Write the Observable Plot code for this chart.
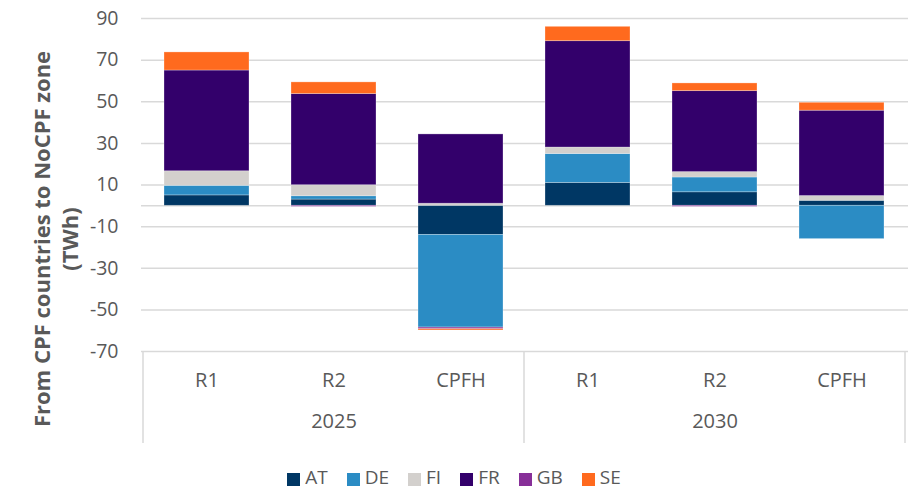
<!DOCTYPE html>
<html>
<head>
<meta charset="utf-8">
<script src="https://cdn.jsdelivr.net/npm/d3@7"></script>
<script src="https://cdn.jsdelivr.net/npm/@observablehq/plot@0.6"></script>
<style>
  body { margin: 0; background: #fff; font-family: "Open Sans", sans-serif; }
  #legend { display: flex; justify-content: center; align-items: center; padding-left: 18px; padding-top: 9px; line-height: normal; font-size: 19px; color: #595959; }
  .item { display: flex; align-items: center; margin-right: 19px; }
  .sw { width: 13px; height: 13px; margin-right: 5px; display: inline-block; position: relative; top: 2px; }
</style>
</head>
<body>
<div id="chart"></div>
<div id="legend"></div>
<script>
const years = ["2025", "2030"];
const scenarios = ["R1", "R2", "CPFH"];
const series = ["AT", "DE", "FI", "FR", "GB", "SE"];
const colors = ["#003764", "#2B8CC4", "#D3D0CD", "#33006B", "#872F98", "#FF6A1E"];
// values per series, order: 2025 R1, R2, CPFH, 2030 R1, R2, CPFH
const AT = [5, 3, -14, 11, 6.5, 2.4];
const DE = [4.6, 1.6, -44.5, 13.9, 7.1, -16];
const FI = [7, 5.3, 1, 3.1, 2.6, 2.3];
const FR = [48.4, 43.8, 33.3, 51.1, 38.9, 41];
const GB = [0, -0.5, -0.8, 0, -0.5, 0];
const SE = [8.7, 5.6, -0.6, 6.9, 3.7, 3.8];
const yTicks = [-70, -50, -30, -10, 10, 30, 50, 70, 90];
const yTitle = ["From CPF countries to NoCPF zone\n(TWh)"];

const keys = years.flatMap(y => scenarios.map(s => y + "|" + s));
const seriesValues = {AT, DE, FI, FR, GB, SE};
const rows = [];
series.forEach(s => {
  keys.forEach((k, i) => rows.push({key: k, series: s, value: seriesValues[s][i]}));
});

const grid = "#d9d9d9";

function separators(index, scales, values, dim) {
  const x = scales.x;
  const step = x(keys[1]) - x(keys[0]);
  const bw = x.bandwidth ? x.bandwidth() : step * 0.67;
  const half = (step - bw) / 2;
  const xs = [x(keys[0]) - half, x(keys[3]) - half, x(keys[5]) + bw + half];
  const y0 = dim.height - dim.marginBottom;
  const g = d3.create("svg:g");
  xs.forEach(v => {
    g.append("line").attr("x1", v).attr("x2", v).attr("y1", y0).attr("y2", y0 + 92)
      .attr("stroke", grid).attr("stroke-width", 1.5);
  });
  return g.node();
}

const chart = Plot.plot({
  width: 909,
  height: 455,
  marginLeft: 141,
  marginRight: 1,
  marginTop: 18,
  marginBottom: 104,
  style: {fontFamily: "Open Sans, sans-serif", fontSize: "19px", color: "#595959", background: "#fff"},
  x: {type: "band", domain: keys, paddingInner: 0.33, paddingOuter: 0.165, axis: null},
  y: {domain: [-70, 90], axis: null},
  color: {domain: series, range: colors},
  marks: [
    Plot.ruleY(yTicks.concat([0]), {stroke: grid, strokeWidth: 1.5}),
    Plot.barY(rows, {x: "key", y: "value", fill: "series", stroke: "white", strokeOpacity: 0.35, strokeWidth: 0.8}),
    Plot.axisY({ticks: yTicks, tickSize: 0, tickPadding: 23, tickFormat: d => String(d), label: null, fontSize: 19.5}),
    Plot.axisX({tickSize: 0, tickPadding: 21, tickFormat: d => d.split("|")[1], label: null, fontSize: 20}),
    Plot.text(years, {x: d => d + "|R2", text: d => d, frameAnchor: "bottom", dy: 76, fontSize: 20, fill: "#595959"}),
    Plot.text(yTitle, {text: d => d, frameAnchor: "left", dx: -86, dy: 54, rotate: -90, fontSize: 22, fontWeight: "bold", lineHeight: 1.27, fill: "#595959", textAnchor: "middle", lineAnchor: "middle"}),
    separators
  ]
});
document.getElementById("chart").appendChild(chart);

const legend = document.getElementById("legend");
series.forEach((s, i) => {
  const it = document.createElement("div");
  it.className = "item";
  it.innerHTML = `<span class="sw" style="background:${colors[i]}"></span><span>${s}</span>`;
  legend.appendChild(it);
});
</script>
</body>
</html>
